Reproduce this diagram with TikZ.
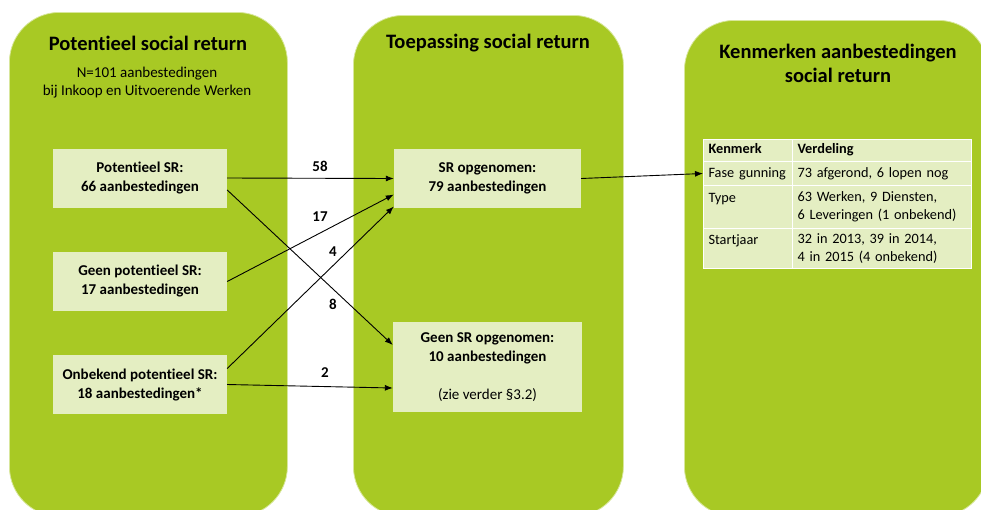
\documentclass[tikz,border=0pt]{standalone}
\usepackage{fontspec}
\setmainfont{Carlito}[Ligatures=NoCommon]
\usetikzlibrary{arrows.meta, positioning, calc}
\definecolor{PG}{RGB}{168,201,36}
\definecolor{LG}{RGB}{228,238,194}
\definecolor{DG}{RGB}{20,20,20}
\hyphenpenalty=10000

\begin{document}
\begin{tikzpicture}[x=1pt, y=-1pt,
  panel/.style={fill=PG, draw=PG!45!white, line width=0.8pt, rounded corners=50pt,
                anchor=north west, inner sep=0pt},
  title/.style={font=\fontsize{20.5}{24}\selectfont\bfseries, align=center},
  sub/.style={font=\fontsize{15}{18}\selectfont, align=center},
  box/.style={fill=LG, inner sep=0pt, minimum width=174pt, minimum height=59pt,
              font=\fontsize{15}{19}\selectfont\bfseries, align=center},
  cell/.style={fill=LG, draw=white, line width=1pt, anchor=north west,
               inner xsep=5pt, inner ysep=0pt, align=left,
               font=\fontsize{14.3}{18}\selectfont},
  head/.style={cell, text height=10pt, text depth=3.5pt,
               font=\fontsize{14.3}{18}\selectfont\bfseries},
  num/.style={font=\fontsize{15}{17}\selectfont\bfseries},
  earr/.style={draw=black, line width=0.9pt, -{Latex[length=8pt, width=6pt]}}
]
\useasboundingbox (0,0) rectangle (981,509);
\clip (0,0) rectangle (981,509);

% Panels
\node[panel, minimum width=278pt, minimum height=504pt] (P1) at (9,12)  {};
\node[panel, minimum width=270pt, minimum height=501pt] (P2) at (353,15) {};
\node[panel, minimum width=304pt, minimum height=496pt] (P3) at (684,20) {};

\node[title] (T1) at (148,43) {Potentieel social return};
\node[sub]   (S1) at (147,83) {N=101 aanbestedingen\\bij Inkoop en Uitvoerende Werken};
\node[title] (T2) at (488,43) {Toepassing social return};
\node[title] (T3) at (838,63) {Kenmerken aanbestedingen\\social return};

% Left column
\node[box] (pot)  at (140,178)   {Potentieel SR:\\66 aanbestedingen};
\node[box] (geen) at (140,281.5) {Geen potentieel SR:\\17 aanbestedingen};
\node[box] (onb)  at (140,384.5) {Onbekend potentieel SR:\\18 aanbestedingen*};

% Middle column
\node[box, minimum width=187pt] (sr) at (487.5,178.5) {SR opgenomen:\\79 aanbestedingen};
\node[box, minimum width=189pt, minimum height=90pt] (nsr) at (487.5,367)
  {Geen SR opgenomen:\\10 aanbestedingen\\[19pt]{\mdseries (zie verder \S3.2)}};

% Flows
\draw[earr] (pot.east) -- (sr.west);
\draw[earr] (geen.east) -- ([yshift=-16pt]sr.west);
\draw[earr] ([yshift=16pt]onb.east) -- ([yshift=-28pt]sr.west);
\draw[earr] ([yshift=-12pt]pot.east) -- ([yshift=22pt]nsr.west);
\draw[earr] (onb.east) -- ([yshift=-21pt]nsr.west);

\node[num] (n58) at (320,166) {58};
\node[num] (n17) at (320,217) {17};
\node[num] (n4)  at (333,252) {4};
\node[num] (n8)  at (333,304) {8};
\node[num] (n2)  at (325,373) {2};

% Table
\node[head, text width=79pt,  minimum height=22pt] (t11) at (703,139) {Kenmerk};
\node[head, text width=169pt, minimum height=22pt] (t12) at (792,139) {Verdeling};
\node[cell, text width=79pt,  minimum height=24pt] (t21) at (703,161) {Fase gunning};
\node[cell, text width=169pt, minimum height=24pt] (t22) at (792,161) {73 afgerond, 6 lopen nog};
\node[cell, text width=79pt,  minimum height=43pt] (t31) at (703,185) {Type\\\mbox{}};
\node[cell, text width=169pt, minimum height=43pt] (t32) at (792,185) {63 Werken, 9 Diensten,\\6 Leveringen (1 onbekend)};
\node[cell, text width=79pt,  minimum height=40pt] (t41) at (703,228) {Startjaar\\\mbox{}};
\node[cell, text width=169pt, minimum height=40pt] (t42) at (792,228) {32 in 2013, 39 in 2014,\\4 in 2015 (4 onbekend)};

\draw[earr] (sr.east) -- (t21.west);
\end{tikzpicture}
\end{document}
